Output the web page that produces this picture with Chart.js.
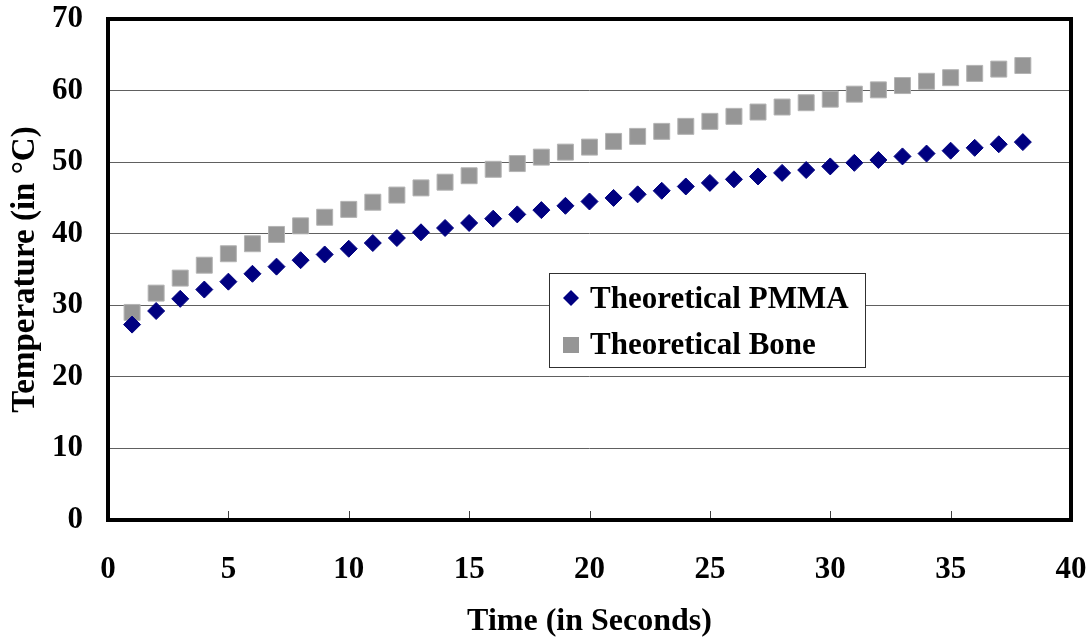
<!DOCTYPE html>
<html><head><meta charset="utf-8">
<script src="https://cdn.jsdelivr.net/npm/chart.js@4/dist/chart.umd.min.js"></script>
<style>html,body{margin:0;padding:0;background:#fff;overflow:hidden;}</style>
</head><body>
<canvas id="c" width="1091" height="639"></canvas>
<script>
const timeSeconds = [1,2,3,4,5,6,7,8,9,10,11,12,13,14,15,16,17,18,19,20,21,22,23,24,25,26,27,28,29,30,31,32,33,34,35,36,37,38];
const pmmaTemps = [27.3,29.2,30.9,32.2,33.3,34.4,35.4,36.3,37.1,37.9,38.7,39.4,40.2,40.8,41.5,42.1,42.7,43.3,43.9,44.5,45.0,45.5,46.0,46.6,47.1,47.6,48.0,48.5,48.9,49.4,49.9,50.3,50.8,51.2,51.6,52.0,52.5,52.8];
const boneTemps = [29.0,31.7,33.8,35.6,37.2,38.6,39.9,41.1,42.3,43.4,44.4,45.4,46.4,47.2,48.1,49.0,49.8,50.7,51.4,52.1,52.9,53.6,54.3,55.0,55.7,56.4,57.0,57.7,58.3,58.8,59.5,60.1,60.7,61.3,61.8,62.4,63.0,63.5];
const xTickValues = [0,5,10,15,20,25,30,35,40];
const yTickValues = [0,10,20,30,40,50,60,70];
const seriesNames = ['Theoretical PMMA','Theoretical Bone'];
const xTitle = 'Time (in Seconds)';
const yTitle = 'Temperature (in °C)';

const FONT = '"Liberation Serif", "Times New Roman", serif';
const PMMA_COLOR = '#000080';
const BONE_COLOR = '#969696';

const framePlugin = {
  id: 'frame',
  beforeDatasetsDraw(chart) {
    const {ctx, chartArea: a} = chart;
    const xs = chart.scales.x;
    ctx.save();
    ctx.strokeStyle = '#404040';
    ctx.lineWidth = 1;
    xTickValues.forEach(v => {
      const px = Math.round(xs.getPixelForValue(v)) + 0.5;
      ctx.beginPath();
      ctx.moveTo(px, a.bottom);
      ctx.lineTo(px, a.bottom - 9);
      ctx.stroke();
    });
    ctx.strokeStyle = '#000';
    ctx.lineWidth = 4;
    ctx.strokeRect(a.left, a.top, a.right - a.left, a.bottom - a.top);
    ctx.restore();
  },
  afterDraw(chart) {
    const {ctx} = chart;
    ctx.save();
    const bx = 549, by = 273, bw = 316, bh = 94;
    ctx.fillStyle = '#fff';
    ctx.fillRect(bx, by, bw, bh);
    ctx.strokeStyle = '#303030';
    ctx.lineWidth = 1;
    ctx.strokeRect(bx + 0.5, by + 0.5, bw, bh);
    const mx = 571;
    ctx.fillStyle = PMMA_COLOR;
    ctx.beginPath();
    ctx.moveTo(mx - 8, 298); ctx.lineTo(mx, 290); ctx.lineTo(mx + 8, 298); ctx.lineTo(mx, 306); ctx.closePath();
    ctx.fill();
    ctx.fillStyle = BONE_COLOR;
    ctx.fillRect(mx - 8, 337, 16, 16);
    ctx.fillStyle = '#000';
    ctx.font = 'bold 31px ' + FONT;
    ctx.textBaseline = 'alphabetic';
    ctx.textAlign = 'left';
    ctx.fillText(chart.data.datasets[0].label, 590, 308);
    ctx.fillText(chart.data.datasets[1].label, 590, 354);
    ctx.restore();
  }
};

new Chart(document.getElementById('c'), {
  type: 'scatter',
  data: {
    datasets: [
      {
        label: seriesNames[0],
        data: timeSeconds.map((t, i) => ({x: t, y: pmmaTemps[i]})),
        pointStyle: 'rectRot',
        pointRadius: 8.5,
        backgroundColor: PMMA_COLOR,
        borderColor: PMMA_COLOR,
        borderWidth: 1
      },
      {
        label: seriesNames[1],
        data: timeSeconds.map((t, i) => ({x: t, y: boneTemps[i]})),
        pointStyle: 'rect',
        pointRadius: 11.3,
        backgroundColor: BONE_COLOR,
        borderColor: '#b4b4b4',
        borderWidth: 1
      }
    ]
  },
  options: {
    responsive: false,
    animation: false,
    layout: {padding: {top: 19, right: 20, left: 0, bottom: 0}},
    plugins: {legend: {display: false}, tooltip: {enabled: false}},
    scales: {
      x: {
        type: 'linear', min: 0, max: 40,
        afterBuildTicks: s => { s.ticks = xTickValues.map(v => ({value: v})); },
        afterFit: s => { s.height = 119; s.paddingLeft = 0; s.paddingRight = 0; },
        grid: {display: false, drawTicks: false},
        border: {display: false},
        ticks: {color: '#000', padding: 31, font: {family: FONT, size: 31, weight: 'bold'}},
        title: {display: true, text: xTitle, color: '#000', padding: {top: 0, bottom: -2}, font: {family: FONT, size: 32, weight: 'bold'}}
      },
      y: {
        type: 'linear', min: 0, max: 70,
        afterBuildTicks: s => { s.ticks = yTickValues.map(v => ({value: v})); },
        afterFit: s => { s.width = 108; s.paddingTop = 0; s.paddingBottom = 0; },
        grid: {color: '#606060', lineWidth: 1, drawTicks: false},
        border: {display: false},
        ticks: {color: '#000', padding: 25, font: {family: FONT, size: 31, weight: 'bold'}},
        title: {display: true, text: yTitle, color: '#000', padding: {top: 6, bottom: 0}, font: {family: FONT, size: 33, weight: 'bold'}}
      }
    }
  },
  plugins: [framePlugin]
});
</script>
</body></html>
